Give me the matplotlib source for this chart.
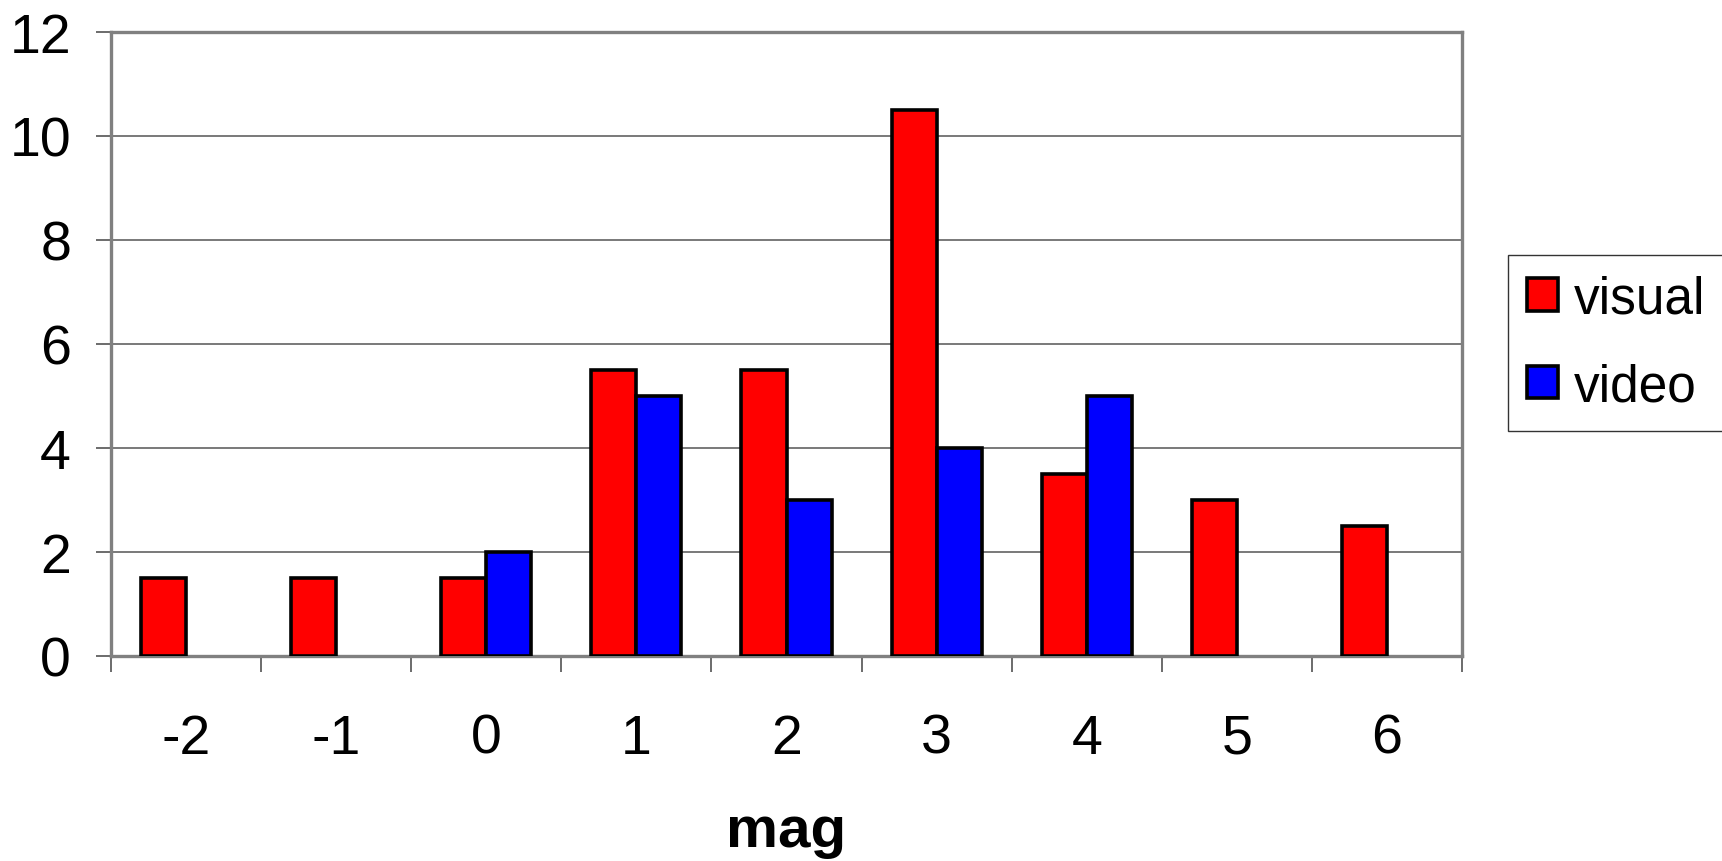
import matplotlib.pyplot as plt
import numpy as np

plt.rcParams['font.family'] = ['Liberation Sans', 'DejaVu Sans']

# magnitude classes and counts per class
mags = ['-2', '-1', '0', '1', '2', '3', '4', '5', '6']
visual = [1.5, 1.5, 1.5, 5.5, 5.5, 10.5, 3.5, 3.0, 2.5]
video = [0, 0, 2, 5, 3, 4, 5, 0, 0]

fig = plt.figure(figsize=(17.22, 8.62), dpi=100)
ax = fig.add_axes([0.0645, 0.238, 0.7845, 0.724])

x = np.arange(len(mags))
w = 0.3
ax.bar(x - w / 2, visual, w, color='#ff0000', edgecolor='black', linewidth=2.6,
       label='visual', zorder=3)
# zero counts get no bar at all
vx = [xi for xi, v in zip(x, video) if v > 0]
vv = [v for v in video if v > 0]
ax.bar(np.array(vx) + w / 2, vv, w, color='#0000ff', edgecolor='black', linewidth=2.6,
       label='video', zorder=3)

ax.set_xlim(-0.5, len(mags) - 0.5)
ax.set_ylim(0, 12)
ax.set_yticks(range(0, 13, 2))
ax.yaxis.grid(True, color='#555555', linewidth=1.1, zorder=0)

ax.set_xticks(x)
ax.set_xticklabels(mags)
ax.set_xticks(np.arange(-0.5, len(mags)), minor=True)
ax.tick_params(axis='x', which='major', length=0, pad=41, labelsize=40)
ax.tick_params(axis='x', which='minor', length=11.5, width=1.3, color='#606060')
ax.tick_params(axis='y', length=10.8, width=1.3, color='#606060', pad=18, labelsize=40)

for s in ax.spines.values():
    s.set_color('#808080')
    s.set_linewidth(2.4)

ax.set_xlabel('mag', fontsize=42, fontweight='bold', labelpad=28)

leg = fig.legend(loc='center left', bbox_to_anchor=(0.8757, 0.601), borderaxespad=0,
                 fontsize=37, frameon=True, fancybox=False, edgecolor='black',
                 handlelength=0.6, handleheight=0.6, handletextpad=0.3,
                 labelspacing=0.75, borderpad=0.38)
leg.get_frame().set_linewidth(1.0)

fig.savefig('out.png', dpi=100)
